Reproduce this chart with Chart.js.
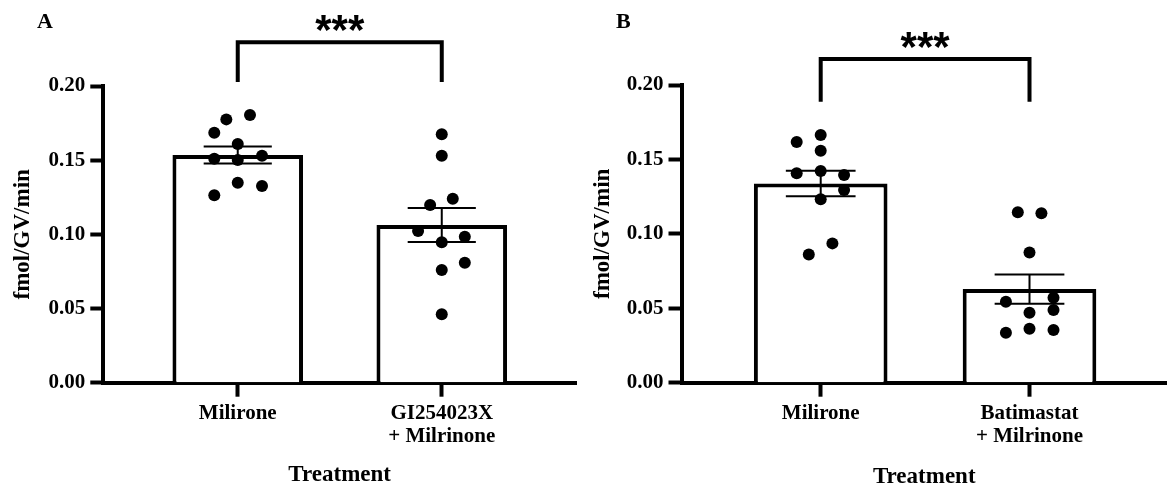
<!DOCTYPE html>
<html>
<head>
<meta charset="utf-8">
<script src="https://cdn.jsdelivr.net/npm/chart.js@4.4.1/dist/chart.umd.min.js"></script>
<style>
  html, body { margin: 0; padding: 0; background: #fff; }
  #wrap { position: relative; width: 1167px; height: 491px; overflow: hidden; }
  canvas { position: absolute; top: 0; }
  .letter { position: absolute; font: bold 22px "Liberation Serif", serif; line-height: 22px; color: #000; }
</style>
</head>
<body>
<div id="wrap">
  <canvas id="chartA" width="580" height="491" style="left:0"></canvas>
  <canvas id="chartB" width="587" height="491" style="left:580px"></canvas>
  <div class="letter" style="left:37px; top:10px">A</div>
  <div class="letter" style="left:616px; top:10px">B</div>
</div>
<script>
// panel A
const categoriesA = ['Milirone', ['GI254023X', '+ Milrinone']];
const meanA = [0.1535, 0.1063];
const semA = [0.0058, 0.0115];
const milironeA = [0.1685, 0.1775, 0.1805, 0.1609, 0.1510, 0.1501, 0.1530, 0.1348, 0.1326, 0.1263];
const milironeA_jitter = [-0.115, -0.056, 0.060, 0, -0.115, 0, 0.119, 0, 0.119, -0.115];
const gi254A = [0.1674, 0.1530, 0.1198, 0.1240, 0.1023, 0.0946, 0.0984, 0.0809, 0.0760, 0.0461];
const gi254A_jitter = [0, 0, -0.057, 0.054, -0.116, 0, 0.113, 0.113, 0, 0];

// panel B
const categoriesB = ['Milirone', ['Batimastat', '+ Milrinone']];
const meanB = [0.1338, 0.0629];
const semB = [0.0086, 0.0098];
const milironeB = [0.1617, 0.1664, 0.1559, 0.1407, 0.1422, 0.1395, 0.1295, 0.1232, 0.0936, 0.0862];
const milironeB_jitter = [-0.115, 0, 0, -0.115, 0, 0.112, 0.112, 0, 0.056, -0.057];
const batimastatB = [0.1145, 0.1138, 0.0874, 0.0544, 0.0571, 0.0488, 0.0470, 0.0336, 0.0363, 0.0354];
const batimastatB_jitter = [-0.056, 0.057, 0, -0.113, 0.115, 0.115, 0, -0.113, 0, 0.115];

const yTicks = [0, 0.05, 0.10, 0.15, 0.20];

Chart.defaults.font.family = '"Liberation Serif", "Times New Roman", serif';
Chart.defaults.color = '#000';

// error bars, bracket and stars
const overlay = {
  id: 'overlay',
  afterDatasetsDraw(chart, args, opts) {
    const ctx = chart.ctx;
    const x = chart.scales.x, y = chart.scales.y;
    ctx.save();
    ctx.strokeStyle = '#000';
    ctx.lineWidth = 2;
    opts.means.forEach((m, i) => {
      const cx = x.getPixelForValue(i + 1);
      const hw = x.getPixelForValue(i + 1 + opts.capHalf) - cx;
      const yHi = y.getPixelForValue(m + opts.sems[i]);
      const yLo = y.getPixelForValue(m - opts.sems[i]);
      ctx.beginPath();
      ctx.moveTo(cx - hw, yHi); ctx.lineTo(cx + hw, yHi);
      ctx.moveTo(cx - hw, yLo); ctx.lineTo(cx + hw, yLo);
      ctx.moveTo(cx, yHi); ctx.lineTo(cx, yLo);
      ctx.stroke();
    });
    const x1 = x.getPixelForValue(1), x2 = x.getPixelForValue(2);
    const yt = y.getPixelForValue(opts.bracket[0]);
    const yb = y.getPixelForValue(opts.bracket[1]);
    ctx.lineWidth = 4;
    ctx.beginPath();
    ctx.moveTo(x1, yb); ctx.lineTo(x1, yt); ctx.lineTo(x2, yt); ctx.lineTo(x2, yb);
    ctx.stroke();
    ctx.fillStyle = '#000';
    ctx.font = 'bold 42px "Liberation Sans", Arial, sans-serif';
    ctx.textAlign = 'center';
    ctx.textBaseline = 'alphabetic';
    ctx.fillText('***', (x1 + x2) / 2, yt + 2);
    ctx.restore();
  }
};

function makePanel(id, cats, means, sems, g1, j1, g2, j2, cfg) {
  const pts = [];
  g1.forEach((v, i) => pts.push({x: 1 + j1[i], y: v}));
  g2.forEach((v, i) => pts.push({x: 2 + j2[i], y: v}));
  return new Chart(document.getElementById(id), {
    type: 'bar',
    data: {
      datasets: [{
        type: 'scatter',
        data: pts,
        order: 1,
        pointRadius: 6,
        pointBackgroundColor: '#000',
        pointBorderWidth: 0
      }, {
        data: means.map((m, i) => ({x: i + 1, y: m})),
        order: 2,
        backgroundColor: '#fff',
        borderColor: '#000',
        borderWidth: 4,
        categoryPercentage: 1,
        barPercentage: 0.64
      }]
    },
    options: {
      responsive: false,
      animation: false,
      layout: { autoPadding: false, padding: { top: cfg.top, right: cfg.right, left: 0, bottom: 0 } },
      plugins: {
        legend: { display: false },
        tooltip: { enabled: false },
        overlay: { means: means, sems: sems, capHalf: 0.167, bracket: cfg.bracket }
      },
      scales: {
        x: {
          type: 'linear',
          offset: false,
          min: cfg.xMin,
          max: cfg.xMax,
          afterBuildTicks: s => { s.ticks = [{value: 1}, {value: 2}]; },
          afterFit: s => { s.height = 491 - 382.7; },
          ticks: {
            autoSkip: false,
            maxRotation: 0,
            padding: 6,
            font: { size: 21, weight: 'bold', lineHeight: 1.08 },
            callback: (v, i) => cats[i]
          },
          grid: { offset: false, drawOnChartArea: false, drawTicks: true, tickLength: 14, tickWidth: 4, tickColor: '#000' },
          border: { display: true, color: '#000', width: 4 },
          title: { display: true, text: 'Treatment', font: { size: 23, weight: 'bold' }, padding: { top: 0, bottom: cfg.titleBottom } }
        },
        y: {
          min: 0,
          max: 0.2,
          afterBuildTicks: s => { s.ticks = yTicks.map(v => ({value: v})); },
          afterFit: s => { s.width = cfg.yWidth; },
          ticks: {
            padding: 5,
            font: { size: 21, weight: 'bold' },
            callback: v => v.toFixed(2)
          },
          grid: { drawOnChartArea: false, drawTicks: true, tickLength: 13, tickWidth: 4, tickColor: '#000' },
          border: { display: true, color: '#000', width: 4 },
          title: { display: true, text: 'fmol/GV/min', font: { size: 23, weight: 'bold' }, padding: { top: 9.5, bottom: 0 } }
        }
      }
    },
    plugins: [overlay]
  });
}

makePanel('chartA', categoriesA, meanA, semA, milironeA, milironeA_jitter, gi254A, gi254A_jitter,
  { top: 86, right: 4, xMin: 0.341, xMax: 2.658, yWidth: 103.3, bracket: [0.2295, 0.2027], titleBottom: 2 });
makePanel('chartB', categoriesB, meanB, semB, milironeB, milironeB_jitter, batimastatB, batimastatB_jitter,
  { top: 85, right: 0, xMin: 0.3333, xMax: 2.6585, yWidth: 101.5, bracket: [0.2175, 0.1888], titleBottom: 0 });
</script>
</body>
</html>
